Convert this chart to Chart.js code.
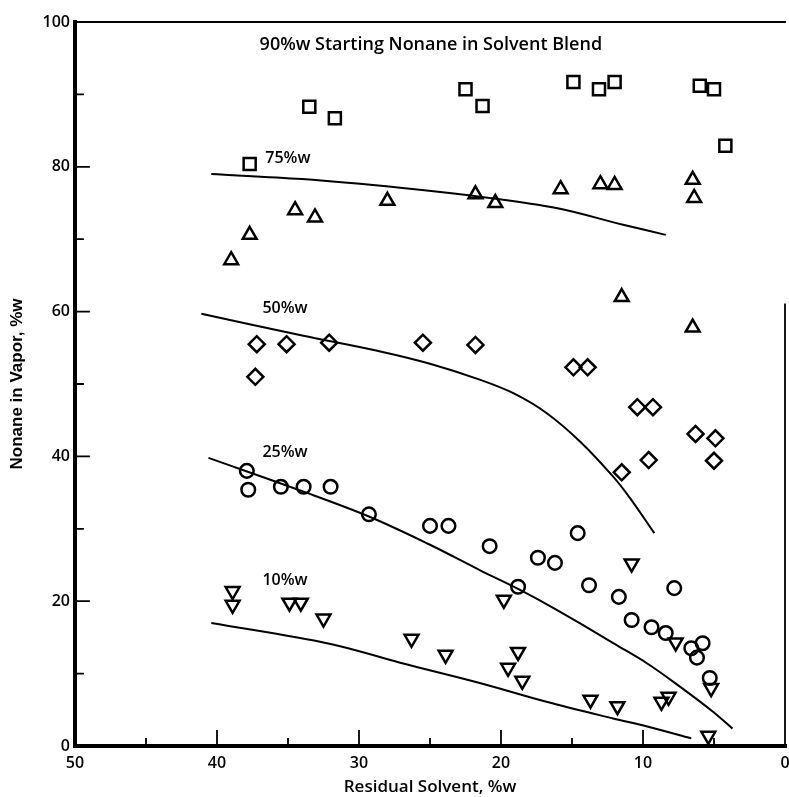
<!DOCTYPE html>
<html>
<head>
<meta charset="utf-8">
<script src="https://cdn.jsdelivr.net/npm/chart.js@4.4.1/dist/chart.umd.min.js"></script>
<style>
  html, body { margin: 0; padding: 0; background: #fff; }
  #wrap { width: 789px; height: 797px; }
</style>
</head>
<body>
<div id="wrap"><canvas id="myChart" width="789" height="797"></canvas></div>
<script>
// values (x = residual solvent %w, y = nonane in vapor %w)
const squareX = [37.7, 33.5, 31.7, 22.5, 21.3, 14.9, 13.1, 12.0, 6.0, 5.0, 4.2];
const squareY = [80.4, 88.3, 86.7, 90.7, 88.4, 91.7, 90.7, 91.7, 91.2, 90.7, 82.9];

const triUpX = [39.0, 37.7, 34.5, 33.1, 28.0, 21.8, 20.4, 15.8, 13.0, 12.0, 6.5, 6.4, 11.5, 6.5];
const triUpY = [67.1, 70.6, 74.0, 73.0, 75.3, 76.2, 75.0, 76.9, 77.6, 77.5, 78.2, 75.7, 62.0, 57.8];

const diamondX = [37.2, 37.3, 35.1, 32.1, 25.5, 21.8, 14.9, 13.9, 10.4, 9.3, 6.3, 4.9, 9.6, 11.5, 5.0];
const diamondY = [55.5, 51.0, 55.5, 55.7, 55.7, 55.4, 52.3, 52.3, 46.8, 46.8, 43.1, 42.5, 39.5, 37.8, 39.4];

const circleX = [37.9, 37.8, 35.5, 33.9, 32.0, 29.3, 25.0, 23.7, 20.8, 14.6, 17.4, 16.2, 18.8, 13.8, 11.7, 7.8, 10.8, 9.4, 8.4, 6.6, 5.8, 6.2, 5.3];
const circleY = [38.0, 35.4, 35.8, 35.8, 35.8, 32.0, 30.4, 30.4, 27.6, 29.4, 26.0, 25.3, 22.0, 22.2, 20.6, 21.8, 17.4, 16.4, 15.6, 13.5, 14.2, 12.2, 9.4];

const triDownX = [38.9, 38.9, 34.9, 34.1, 32.5, 26.3, 23.9, 19.8, 10.8, 18.8, 19.5, 18.5, 13.7, 11.8, 8.7, 8.2, 7.7, 5.2, 5.4];
const triDownY = [21.4, 19.5, 19.8, 19.8, 17.6, 14.8, 12.6, 20.2, 25.2, 13.0, 10.8, 9.0, 6.4, 5.5, 6.1, 6.8, 14.3, 8.0, 1.4];

// fitted curves
const curve75X = [40.4, 34.0, 27.1, 20.8, 16.1, 11.4, 8.4];
const curve75Y = [79.0, 78.3, 77.1, 75.7, 74.3, 72.0, 70.6];
const curve50X = [41.1, 34.0, 28.5, 25.0, 21.5, 19.1, 16.8, 14.4, 12.1, 10.9, 9.2];
const curve50Y = [59.7, 56.7, 54.5, 52.8, 50.6, 48.7, 46.0, 42.0, 37.2, 34.2, 29.4];
const curve25X = [40.6, 34.0, 29.3, 25.0, 21.5, 18.8, 16.8, 14.4, 12.1, 9.7, 7.4, 5.05, 3.7];
const curve25Y = [39.8, 35.2, 31.7, 27.8, 24.3, 21.7, 19.6, 16.9, 14.2, 11.4, 8.2, 4.7, 2.4];
const curve10X = [40.4, 32.0, 27.1, 21.5, 16.8, 12.1, 9.7, 6.6];
const curve10Y = [17.0, 14.1, 11.5, 8.7, 6.1, 3.8, 2.7, 1.05];

// text labels inside the plot: [text, x, y, size]
const notes = [
  ["90%w Starting Nonane in Solvent Blend", 37.0, 96.8, 18],
  ["75%w", 36.6, 81.2, 16],
  ["50%w", 36.8, 60.4, 16],
  ["25%w", 36.8, 40.5, 16],
  ["10%w", 36.8, 22.8, 16]
];

function pts(xs, ys) {
  return xs.map((x, i) => ({ x: x, y: ys[i] }));
}

function markers(xs, ys, style, r, rot) {
  return {
    data: pts(xs, ys),
    pointStyle: style,
    pointRadius: r,
    pointRotation: rot || 0,
    pointBorderWidth: 2.5,
    pointBorderColor: "#000",
    pointBackgroundColor: "rgba(0,0,0,0)",
    showLine: false
  };
}

function curve(xs, ys) {
  return {
    data: pts(xs, ys),
    showLine: true,
    borderColor: "#000",
    borderWidth: 2,
    pointRadius: 0,
    tension: 0.35
  };
}

const tickFont = { family: "Open Sans", size: 16, weight: 600 };

const frame = {
  id: "frame",
  afterDraw(chart) {
    const c = chart.ctx;
    const xs = chart.scales.x, ys = chart.scales.y;
    const L = xs.getPixelForValue(50), R = xs.getPixelForValue(0);
    const T = ys.getPixelForValue(100), B = ys.getPixelForValue(0);
    c.save();
    c.strokeStyle = "#000";
    c.lineCap = "square";
    // thin top and right border
    c.lineWidth = 1.8;
    c.beginPath();
    c.moveTo(L, T); c.lineTo(R, T);
    c.moveTo(R, ys.getPixelForValue(61)); c.lineTo(R, B);
    c.stroke();
    // ticks (inward)
    c.beginPath();
    for (let v = 10; v <= 100; v += 10) {
      const p = ys.getPixelForValue(v);
      c.moveTo(L, p); c.lineTo(L + (v % 20 === 0 ? 14 : 8), p);
    }
    for (let v = 5; v < 50; v += 5) {
      const p = xs.getPixelForValue(v);
      c.moveTo(p, B); c.lineTo(p, B - (v % 10 === 0 ? 15 : 7));
    }
    c.stroke();
    // heavy axes
    c.lineWidth = 4;
    c.beginPath();
    c.moveTo(L, T); c.lineTo(L, B); c.lineTo(R, B);
    c.stroke();
    c.fillStyle = "#000";
    // x tick labels from the scale's own ticks
    c.font = "600 16px 'Open Sans'";
    c.textAlign = "center";
    c.textBaseline = "middle";
    xs.ticks.forEach(t => {
      c.fillText(String(t.value), xs.getPixelForValue(t.value), B + 17);
    });
    // labels inside the plot
    c.textAlign = "left";
    notes.forEach(n => {
      c.font = "600 " + n[3] + "px 'Open Sans'";
      c.fillText(n[0], xs.getPixelForValue(n[1]), ys.getPixelForValue(n[2]));
    });
    c.restore();
  }
};

new Chart(document.getElementById("myChart").getContext("2d"), {
  type: "scatter",
  data: {
    datasets: [
      markers(squareX, squareY, "rect", 8.5),
      markers(triUpX, triUpY, "triangle", 8),
      markers(diamondX, diamondY, "rectRot", 8),
      markers(circleX, circleY, "circle", 6.8),
      markers(triDownX, triDownY, "triangle", 8, 180),
      curve(curve75X, curve75Y),
      curve(curve50X, curve50Y),
      curve(curve25X, curve25Y),
      curve(curve10X, curve10Y)
    ]
  },
  options: {
    responsive: false,
    animation: false,
    layout: { autoPadding: false, padding: { top: 22, right: 4, left: 0, bottom: 0 } },
    plugins: { legend: { display: false }, tooltip: { enabled: false } },
    scales: {
      x: {
        type: "linear",
        reverse: true,
        min: 0,
        max: 50,
        grid: { display: false, drawTicks: false },
        border: { display: false },
        ticks: { stepSize: 10, display: false },
        title: {
          display: true,
          text: "Residual Solvent, %w",
          color: "#000",
          font: { family: "Open Sans", size: 17, weight: 600 },
          padding: { top: 0, bottom: 0 }
        },
        afterFit(scale) { scale.height = 51; }
      },
      y: {
        min: 0,
        max: 100,
        grid: { display: false, drawTicks: false },
        border: { display: false },
        ticks: { stepSize: 20, color: "#000", font: tickFont, padding: 5 },
        title: {
          display: true,
          text: "Nonane in Vapor, %w",
          color: "#000",
          font: { family: "Liberation Sans", size: 17, weight: "bold" },
          padding: { top: 7, bottom: 0 }
        },
        afterFit(scale) { scale.width = 75; }
      }
    }
  },
  plugins: [frame]
});
</script>
</body>
</html>
